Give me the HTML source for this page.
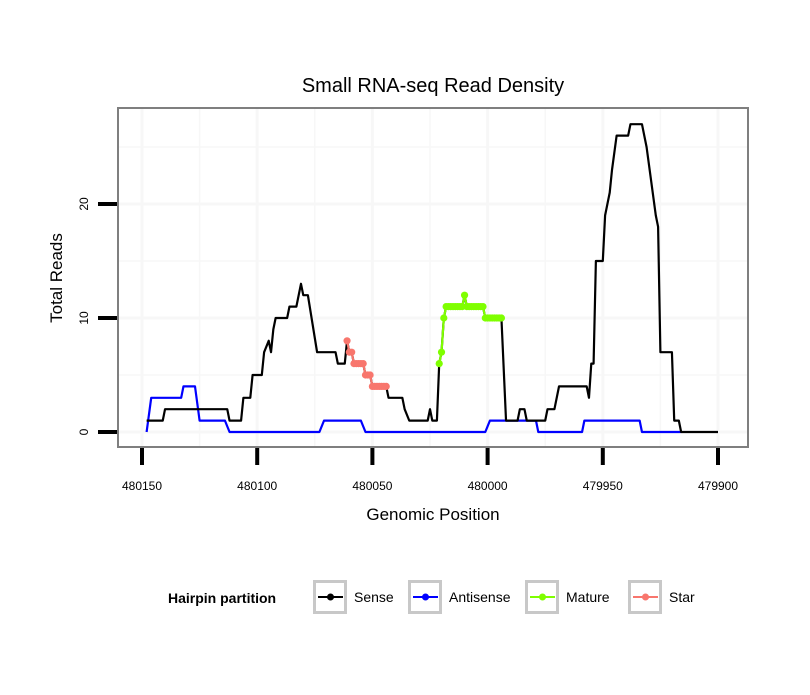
<!DOCTYPE html>
<html><head><meta charset="utf-8"><style>
body{margin:0;background:#fff}
svg text{font-family:"Liberation Sans",sans-serif}
</style></head><body>
<svg width="810" height="690" xmlns="http://www.w3.org/2000/svg">
<g id="grid"></g>
<g id="series"></g>
<rect x="118" y="108" width="630" height="339" fill="none" stroke="#7f7f7f" stroke-width="2"/>
<g id="axes"></g>
<text x="433" y="92" font-size="20" text-anchor="middle">Small RNA-seq Read Density</text>
<text x="433" y="520" font-size="17" text-anchor="middle">Genomic Position</text>
<text transform="translate(62,278) rotate(-90)" font-size="17" text-anchor="middle">Total Reads</text>
<g>
<text x="168" y="603" font-size="14" font-weight="bold">Hairpin partition</text>
<g id="legend"></g>
</g>
</svg>
<script>
const xTicks=[480150,480100,480050,480000,479950,479900];
const yTicks=[0,10,20];
const senseX=[480148,480141,480140,480113,480112,480107,480106,480103,480102,480098,480097,480095,480094,480093,480092,480087,480086,480083,480081,480080,480078,480074,480066,480065,480062,480061,480060,480059,480058,480054,480053,480051,480050,480044,480043,480037,480036,480034,480026,480025,480024,480022,480021,480020,480019,480018,480011,480010,480009,480002,480001,479994,479992,479987,479986,479984,479983,479975,479974,479971,479969,479957,479956,479955,479954,479953,479950,479949,479948,479947,479946,479944,479939,479938,479933,479931,479927,479926,479925,479920,479919,479917,479916,479900];
const senseY=[1,1,2,2,1,1,3,3,5,5,7,8,7,9,10,10,11,11,13,12,12,7,7,6,6,8,7,7,6,6,5,5,4,4,3,3,2,1,1,2,1,1,6,7,10,11,11,12,11,11,10,10,1,1,2,2,1,1,2,2,4,4,3,6,6,15,15,19,20,21,23,26,26,27,27,25,19,18,7,7,1,1,0,0];
const antiX=[480148,480146,480133,480132,480127,480125,480114,480112,480073,480071,480055,480053,480001,479999,479979,479978,479959,479958,479934,479933,479916];
const antiY=[0,3,3,4,4,1,1,0,0,1,1,0,0,1,1,0,0,1,1,0,0];
const matureX=[480021,480020,480019,480018,480011,480010,480009,480002,480001,479994];
const matureY=[6,7,10,11,11,12,11,11,10,10];
const starX=[480061,480060,480059,480058,480054,480053,480051,480050,480044];
const starY=[8,7,7,6,6,5,5,4,4];
const NS="http://www.w3.org/2000/svg";
const sx=v=>142+(480150-v)*2.304;
const sy=v=>432-v*11.4;
function mk(t,a,p){const e=document.createElementNS(NS,t);for(const k in a)e.setAttribute(k,a[k]);p.appendChild(e);return e;}
const grid=document.getElementById('grid'),axes=document.getElementById('axes'),ser=document.getElementById('series');
for(let v=480150;v>=479900;v-=25){const l=mk('line',{x1:sx(v),x2:sx(v),y1:109,y2:446,stroke:'#f7f7f7','stroke-width':v%50===0?3:1.5},grid);

}
for(let v=-5;v<=30;v+=5){const y=sy(v);if(y<109||y>446)continue;const l=mk('line',{x1:119,x2:747,y1:y,y2:y,stroke:'#f7f7f7','stroke-width':v%10===0?3:1.5},grid);

}
xTicks.forEach(v=>{const t=mk('line',{x1:sx(v),x2:sx(v),y1:448,y2:465,stroke:'#000','stroke-width':4},axes);


const tx=mk('text',{x:sx(v),y:490,'font-size':12,'text-anchor':'middle'},axes);tx.textContent=v;

});
yTicks.forEach(v=>{const t=mk('line',{x1:98,x2:117,y1:sy(v),y2:sy(v),stroke:'#000','stroke-width':4},axes);


const tx=mk('text',{transform:`translate(88,${sy(v)}) rotate(-90)`,'font-size':12,'text-anchor':'middle'},axes);tx.textContent=v;

});
function line(xs,ys,c,name){const p=mk('polyline',{points:xs.map((x,i)=>sx(x)+','+sy(ys[i])).join(' '),fill:'none',stroke:c,'stroke-width':2.2,'stroke-linejoin':'round'},ser);

}
function pts(xs,ys,c,name){xs.forEach((x,i)=>{const add=(xx,yy)=>{const d=mk('circle',{cx:sx(xx),cy:sy(yy),r:3.6,fill:c},ser);

};
add(x,ys[i]);if(i<xs.length-1&&ys[i+1]===ys[i]){for(let k=x-1;k>xs[i+1];k--)add(k,ys[i]);}});}
line(antiX,antiY,'#0000ff','antisense-line');
line(senseX,senseY,'#000','sense-line');
line(starX,starY,'#f8766d','star-line');pts(starX,starY,'#f8766d','star-point');
line(matureX,matureY,'#7fff00','mature-line');pts(matureX,matureY,'#7fff00','mature-point');
const leg=document.getElementById('legend');
const items=[['Sense','#000',313],['Antisense','#0000ff',408],['Mature','#7fff00',525],['Star','#f8766d',628]];
items.forEach(([n,c,x])=>{const g=mk('g',{},leg);


mk('rect',{x:x+1.5,y:581.5,width:31,height:31,fill:'#fff',stroke:'#c8c8c8','stroke-width':3},g);
mk('line',{x1:x+5,x2:x+30,y1:597,y2:597,stroke:c,'stroke-width':2},g);
mk('circle',{cx:x+17.5,cy:597,r:3.5,fill:c},g);
const t=mk('text',{x:x+41,y:602,'font-size':14},g);t.textContent=n;});
</script>
</body></html>
